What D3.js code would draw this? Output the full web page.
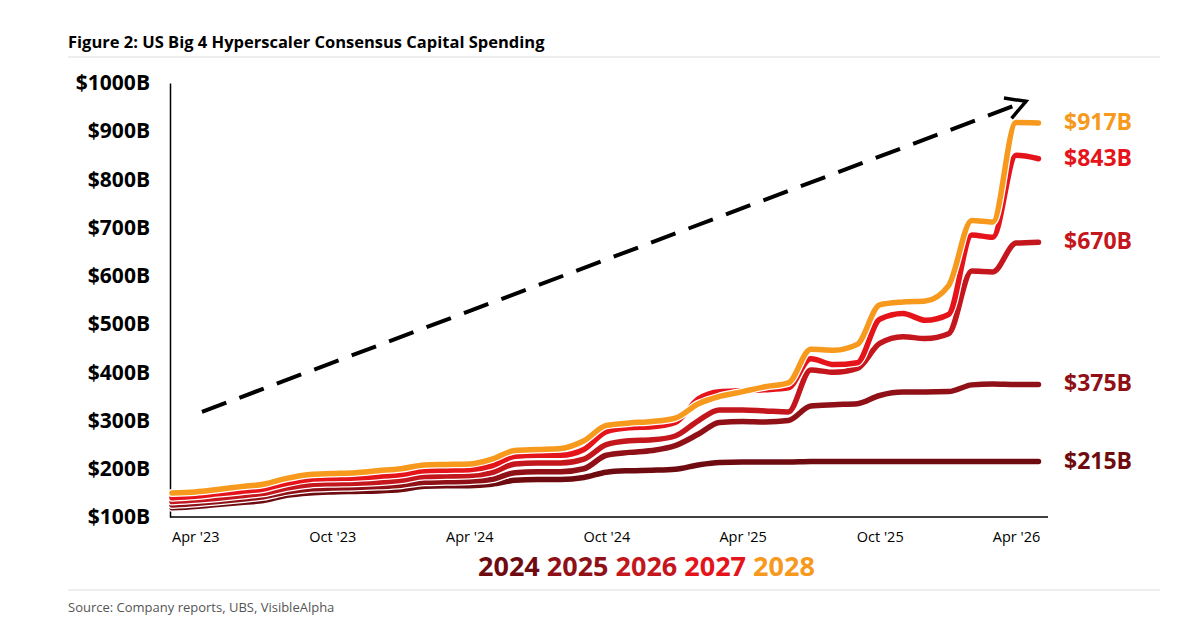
<!DOCTYPE html>
<html><head><meta charset="utf-8">
<script src="https://cdn.jsdelivr.net/npm/d3@7"></script>
<style>body{margin:0;background:#fff}</style></head>
<body><svg id="c" width="1203" height="642"></svg>
<script>
const months = d3.range(39).map(i => new Date(2023, 2 + i, 1));
const years = ["2024","2025","2026","2027","2028"];
const colors = ["#6e0b10","#8f1016","#c4161d","#e5141b","#f6991c"];
const s2024 = [119,122,126,130,134,145,150,152,153,154,157,164,165,165,168,176,178,178,182,193,196,197,199,208,213,214,214,214,215,215,215,215,215,215,215,215,215,215,215];
const s2025 = [125,128,132,137,142,152,158,160,161,163,166,172,173,174,178,192,194,194,200,228,234,238,248,272,296,298,297,300,330,333,335,352,359,359,360,374,376,375,375];
const s2026 = [132,135,139,144,149,160,167,169,170,172,176,184,185,186,192,210,212,212,220,250,258,260,268,300,322,322,320,318,405,400,408,460,474,470,480,610,608,668,670];
const s2027 = [140,143,148,153,158,170,178,180,181,184,188,196,197,198,206,226,228,228,240,277,285,287,296,345,360,362,364,368,428,416,420,510,522,508,520,685,680,850,843];
const s2028 = [150,152,157,163,168,180,188,190,192,196,200,208,209,210,220,238,240,242,258,290,295,298,305,335,350,360,370,378,448,446,458,540,546,548,580,715,712,918,917];
const series = [s2024,s2025,s2026,s2027,s2028];
const endLabels = ["$215B","$375B","$670B","$843B","$917B"];
const yTicks = [100,200,300,400,500,600,700,800,900,1000];
const xTickDates = [new Date(2023,3,1),new Date(2023,9,1),new Date(2024,3,1),new Date(2024,9,1),new Date(2025,3,1),new Date(2025,9,1),new Date(2026,3,1)];
const xTickLabels = ["Apr '23","Oct '23","Apr '24","Oct '24","Apr '25","Oct '25","Apr '26"];

const svg = d3.select("#c");
const font = "'Liberation Sans Narrow','Open Sans',sans-serif";
const x = d3.scaleTime().domain([months[0], new Date(2026,3,1)]).range([172, 1016]);
const y = d3.scaleLinear().domain([100,1000]).range([517,83]);

svg.append("text").attr("x",68).attr("y",48).attr("font-family","'Open Sans',sans-serif").attr("font-weight",700).attr("font-size",16.5).text("Figure 2: US Big 4 Hyperscaler Consensus Capital Spending");
svg.append("line").attr("x1",68).attr("x2",1160).attr("y1",57).attr("y2",57).attr("stroke","#ddd");
svg.append("line").attr("x1",68).attr("x2",1160).attr("y1",590).attr("y2",590).attr("stroke","#ddd");
svg.append("text").attr("x",68).attr("y",612).attr("font-family","'Open Sans',sans-serif").attr("font-size",13).attr("fill","#555").text("Source: Company reports, UBS, VisibleAlpha");

const ya = svg.append("g").attr("transform","translate(170,0)").call(d3.axisLeft(y).tickValues(yTicks).tickSize(0).tickFormat(d=>"$"+d+"B"));
ya.select(".domain").attr("stroke","#000").attr("stroke-width",1.5);
ya.selectAll("text").attr("x",-20).attr("font-family",font).attr("font-weight",700).attr("font-size",21).attr("fill","#000");
const xa = svg.append("g").attr("transform","translate(0,517)").call(d3.axisBottom(x).tickValues(xTickDates).tickSize(0).tickFormat((d,i)=>xTickLabels[i]));
xa.select(".domain").attr("d","M170,0H1048").attr("stroke","#000").attr("stroke-width",1.5);
xa.selectAll("text").attr("y",15).attr("font-family","'Open Sans',sans-serif").attr("font-size",14.5).attr("fill","#000");

svg.append("defs").append("marker").attr("id","ah").attr("viewBox","0 0 12 12").attr("refX",10).attr("refY",6).attr("markerWidth",26).attr("markerHeight",26).attr("orient","auto").attr("markerUnits","userSpaceOnUse")
  .append("path").attr("d","M1,1L10,6L1,11").attr("fill","none").attr("stroke","#000").attr("stroke-width",1.6);
svg.append("line").attr("x1",x(new Date(2023,3,10))).attr("y1",y(318)).attr("x2",x(new Date(2026,3,1))+10).attr("y2",y(962))
  .attr("stroke","#000").attr("stroke-width",4).attr("stroke-dasharray","26,14").attr("marker-end","url(#ah)");

const line = d3.line().x((d,i)=>x(months[i])).y(d=>y(d)).curve(d3.curveMonotoneX);
series.forEach((s,k)=>{
  svg.append("path").attr("d",line(s)).attr("fill","none").attr("stroke","#fff").attr("stroke-width",8).attr("stroke-linecap","round");
  svg.append("path").attr("d",line(s)).attr("fill","none").attr("stroke",colors[k]).attr("stroke-width",5.5).attr("stroke-linecap","round").attr("stroke-linejoin","round");
});
series.forEach((s,k)=>{
  svg.append("text").attr("x",1064).attr("y",y(s[s.length-1])+7).attr("font-family",font).attr("font-weight",700).attr("font-size",23).attr("fill",colors[k]).text(endLabels[k]);
});
const lg = svg.append("text").attr("x",478).attr("y",576).attr("font-family",font).attr("font-weight",700).attr("font-size",27);
years.forEach((yr,k)=>lg.append("tspan").attr("fill",colors[k]).text(yr+(k<4?" ":"")));
</script></body></html>
